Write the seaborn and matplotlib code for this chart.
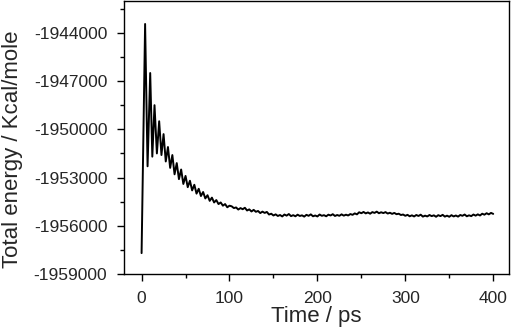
import numpy as np
import pandas as pd
import seaborn as sns
import matplotlib.pyplot as plt
from matplotlib.ticker import MultipleLocator

# equilibration phase: peaks and troughs
t_early = [0, 4, 6.8, 9.8, 12.2, 14.7, 17.4, 20, 22.6, 25, 27.5, 30, 32.5, 35, 37.5,
           40, 42.5, 45, 47.5, 50, 52.5, 55, 57.5, 60, 62.5, 65, 67.5, 70, 72.5, 75,
           77.5, 80, 82.5, 85, 87.5, 90, 92.5, 95, 97.5, 100]
e_early = [-1957700, -1943450, -1952300, -1946500, -1951700, -1948500, -1951500,
           -1949500, -1951600, -1950300, -1952000, -1951100, -1952400, -1951600,
           -1952800, -1952100, -1953100, -1952500, -1953400, -1952900, -1953600,
           -1953200, -1953800, -1953450, -1954000, -1953700, -1954150, -1953900,
           -1954300, -1954100, -1954450, -1954250, -1954550, -1954400, -1954650,
           -1954550, -1954750, -1954650, -1954850, -1954750]

# production phase, every 2.5 ps from 102.5 to 400
e_late = [
    -1954790, -1954900, -1954860, -1954990, -1954900, -1954970, -1954880, -1955050, -1954980, -1955110,
    -1955010, -1955130, -1955080, -1955210, -1955120, -1955200, -1955140, -1955300, -1955250, -1955360,
    -1955290, -1955390, -1955330, -1955420, -1955300, -1955370, -1955270, -1955400, -1955340, -1955410,
    -1955310, -1955390, -1955350, -1955430, -1955320, -1955380, -1955290, -1955410, -1955360, -1955420,
    -1955300, -1955380, -1955340, -1955410, -1955310, -1955360, -1955280, -1955390, -1955330, -1955380,
    -1955290, -1955370, -1955310, -1955360, -1955270, -1955320, -1955230, -1955290, -1955160, -1955220,
    -1955140, -1955230, -1955170, -1955250, -1955150, -1955200, -1955120, -1955220, -1955160, -1955210,
    -1955150, -1955240, -1955190, -1955260, -1955200, -1955280, -1955250, -1955330, -1955300, -1955380,
    -1955320, -1955410, -1955350, -1955420, -1955330, -1955390, -1955310, -1955430, -1955370, -1955420,
    -1955330, -1955400, -1955350, -1955440, -1955340, -1955400, -1955320, -1955430, -1955370, -1955440,
    -1955340, -1955420, -1955360, -1955430, -1955330, -1955380, -1955300, -1955410, -1955350, -1955400,
    -1955300, -1955370, -1955290, -1955360, -1955250, -1955310, -1955220, -1955290, -1955200, -1955260,
]
t_late = list(np.arange(1, len(e_late) + 1) * 2.5 + 100)

df = pd.DataFrame({"Time": t_early + t_late, "Energy": e_early + e_late})

sns.set_style("ticks")
plt.rcParams['font.family'] = ['Liberation Sans', 'DejaVu Sans']
plt.rcParams['axes.unicode_minus'] = False

fig = plt.figure(figsize=(5.12, 3.34), dpi=100)
ax = fig.add_axes([0.2422, 0.1796, 0.7520, 0.8184])

sns.lineplot(data=df, x="Time", y="Energy", ax=ax, color="black", linewidth=1.4, sort=False)

ax.set_xlim(-20, 418)
ax.set_ylim(-1959000, -1942000)
ax.xaxis.set_major_locator(MultipleLocator(100))
ax.xaxis.set_minor_locator(MultipleLocator(50))
ax.yaxis.set_major_locator(MultipleLocator(3000))
ax.yaxis.set_minor_locator(MultipleLocator(1500))
ax.ticklabel_format(axis='y', style='plain', useOffset=False)

ax.tick_params(which='major', direction='out', length=5, width=1, labelsize=12.5, pad=7, color='black')
ax.tick_params(which='minor', direction='out', length=3, width=1, color='black')
for s in ax.spines.values():
    s.set_visible(True)
    s.set_color('black')
    s.set_linewidth(1)

ax.set_xlabel("Time / ps", fontsize=16, labelpad=0)
ax.set_ylabel("Total energy / Kcal/mole", fontsize=16)
ax.yaxis.set_label_coords(-0.262, 0.457)

fig.savefig("out.png", dpi=100)
